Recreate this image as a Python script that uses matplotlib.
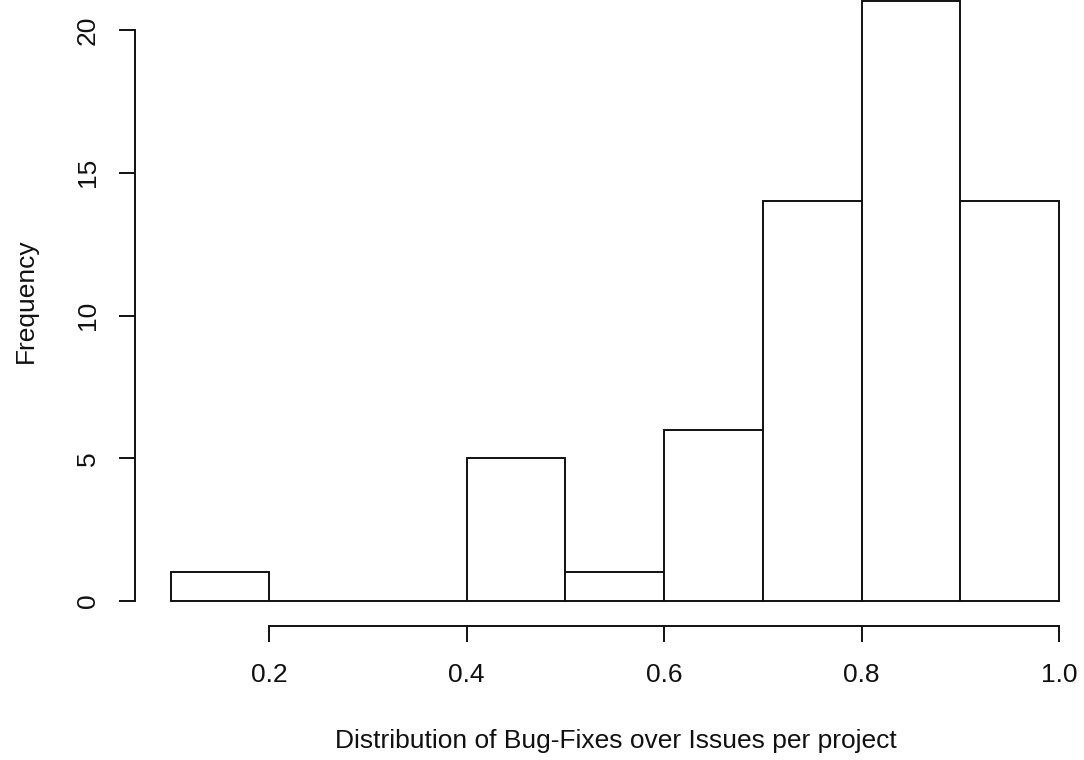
import matplotlib
matplotlib.use("Agg")
import matplotlib.pyplot as plt
import numpy as np

# histogram of bug-fix ratio per project (R base hist style)
bin_edges = [0.1, 0.2, 0.3, 0.4, 0.5, 0.6, 0.7, 0.8, 0.9, 1.0]
counts = [1, 0, 0, 5, 1, 6, 14, 21, 14]
x_ticks = [0.2, 0.4, 0.6, 0.8, 1.0]
x_tick_labels = ["0.2", "0.4", "0.6", "0.8", "1.0"]
y_ticks = [0, 5, 10, 15, 20]

plt.rcParams["font.family"] = ["Liberation Sans", "DejaVu Sans"]
plt.rcParams["font.size"] = 19

W, H = 1084, 760
fig = plt.figure(figsize=(W / 100, H / 100), dpi=100)
# axes placed in pixel terms: x 0.1 -> 170.5px, 1.0 -> 1059px; y 0 -> 601px, 21 -> 1.5px (from top)
ax = fig.add_axes([170.5 / W, 159 / H, (1059 - 170.5) / W, 599.5 / H])

lefts = np.array(bin_edges[:-1])
widths = np.diff(bin_edges)
ax.bar(lefts, counts, width=widths, align="edge", facecolor="white",
       edgecolor="#111111", linewidth=1.4, clip_on=False)

ax.set_xlim(bin_edges[0], bin_edges[-1])
ax.set_ylim(0, 21)

for s in ["top", "right"]:
    ax.spines[s].set_visible(False)
ax.spines["bottom"].set_position(("outward", 18))
ax.spines["left"].set_position(("outward", 25.5))
ax.spines["bottom"].set_bounds(x_ticks[0], x_ticks[-1])
ax.spines["left"].set_bounds(y_ticks[0], y_ticks[-1])
for s in ["bottom", "left"]:
    ax.spines[s].set_linewidth(1.4)
    ax.spines[s].set_color("#111111")

ax.set_xticks(x_ticks)
ax.set_xticklabels(x_tick_labels)
ax.set_yticks(y_ticks)
ax.set_yticklabels([str(v) for v in y_ticks], rotation=90, va="center")
ax.tick_params(axis="both", direction="out", length=11.5, width=1.4,
               color="#111111", labelcolor="#111111")
ax.tick_params(axis="x", pad=15)
ax.tick_params(axis="y", pad=14)

fig.text(616 / W, 1 - 748 / H, "Distribution of Bug-Fixes over Issues per project",
         ha="center", va="baseline", color="#111111")
fig.text(33 / W, 1 - 301 / H, "Frequency", rotation=90, rotation_mode="anchor",
         ha="center", va="baseline", color="#111111")

fig.savefig("out.png", dpi=100, facecolor="white")
